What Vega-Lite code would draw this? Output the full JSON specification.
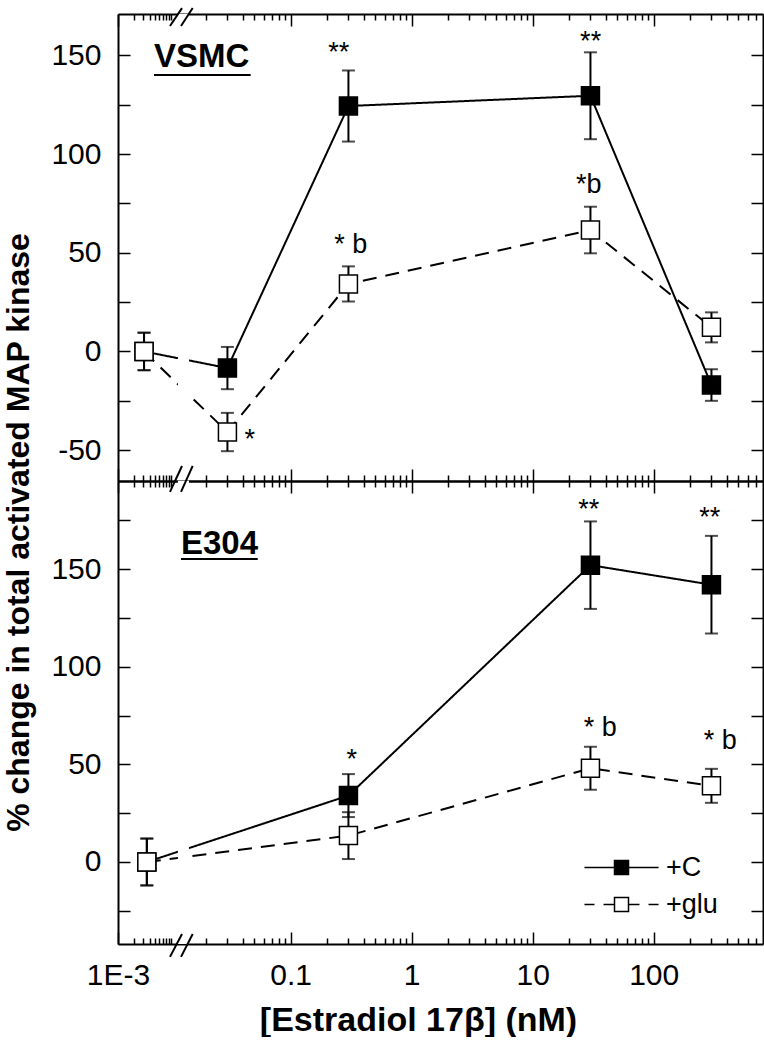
{
  "$schema": "https://vega.github.io/schema/vega-lite/v6.json",
  "padding": {"left": 1, "top": 7, "right": 0, "bottom": 0},
  "autosize": {"type": "pad"},
  "bounds": "flush",
  "spacing": 0,
  "datasets": {
    "vsmc": [
      {"conc": 0.0031, "pct": 0, "err": 9.5, "cond": "+C"},
      {"conc": 0.03, "pct": -8.4, "err": 10.7, "cond": "+C"},
      {"conc": 0.3, "pct": 124.3, "err": 18, "cond": "+C"},
      {"conc": 30, "pct": 129.5, "err": 22, "cond": "+C"},
      {"conc": 300, "pct": -17, "err": 8, "cond": "+C"},
      {"conc": 0.0031, "pct": 0, "err": 9.5, "cond": "+glu"},
      {"conc": 0.03, "pct": -40.8, "err": 9.7, "cond": "+glu"},
      {"conc": 0.3, "pct": 34.2, "err": 8.9, "cond": "+glu"},
      {"conc": 30, "pct": 61.5, "err": 11.8, "cond": "+glu"},
      {"conc": 300, "pct": 12.2, "err": 7.6, "cond": "+glu"}
    ],
    "e304": [
      {"conc": 0.0035, "pct": 0, "err": 12, "cond": "+C"},
      {"conc": 0.3, "pct": 34, "err": 11, "cond": "+C"},
      {"conc": 30, "pct": 152, "err": 22.4, "cond": "+C"},
      {"conc": 300, "pct": 142, "err": 25, "cond": "+C"},
      {"conc": 0.0035, "pct": 0, "err": 12, "cond": "+glu"},
      {"conc": 0.3, "pct": 13.5, "err": 12, "cond": "+glu"},
      {"conc": 30, "pct": 48, "err": 11, "cond": "+glu"},
      {"conc": 300, "pct": 39, "err": 8.7, "cond": "+glu"}
    ]
  },
  "vconcat": [
    {
      "width": 645,
      "height": 467,
      "resolve": {"axis": {"x": "independent", "y": "independent"}},
      "layer": [
        {
          "data": {"name": "vsmc"},
          "mark": {"type": "line", "strokeWidth": 2, "color": "black", "strokeCap": "butt"},
          "encoding": {
            "x": {"field": "conc", "type": "quantitative", "scale": {"type": "log", "domain": [0.001, 0.01, 0.015, 800], "range": [0, 53, 73, 645], "nice": false},
              "axis": {"orient": "bottom", "values": [0.001, 0.1, 1, 10, 100], "tickSize": -12, "labels": false, "title": null}},
            "y": {"field": "pct", "type": "quantitative", "scale": {"domain": [-65.6, 170.9], "nice": false, "zero": false},
              "axis": {"orient": "left", "values": [-50, -25, 0, 25, 50, 75, 100, 125, 150], "tickSize": -12, "labelPadding": 29,
                "labelExpr": "datum.value % 50 === 0 ? toString(datum.value) : ''",
                "title": "% change in total activated MAP kinase", "titleFontSize": 32, "titleX": -90, "titleY": 518, "titleAngle": 270, "titleAlign": "center", "titleBaseline": "alphabetic"}},
            "strokeDash": {"field": "cond", "type": "nominal", "scale": {"domain": ["+glu", "+C"], "range": [[14, 9], [1, 0]]}, "legend": null}
          }
        },
        {
          "data": {"values": [{"a": 0.0115, "b": 0.0144}]},
          "mark": {"type": "rect", "color": "white"},
          "encoding": {
            "x": {"field": "a", "type": "quantitative", "scale": {"type": "log", "domain": [0.001, 0.01, 0.015, 800], "range": [0, 53, 73, 645], "nice": false},
              "axis": {"orient": "bottom", "values": [0.002,0.003,0.004,0.005,0.006,0.007,0.008,0.009,0.01,0.02,0.03,0.04,0.05,0.06,0.07,0.08,0.09,0.2,0.3,0.4,0.5,0.6,0.7,0.8,0.9,2,3,4,5,6,7,8,9,20,30,40,50,60,70,80,90,200,300,400,500,600,700], "tickSize": -6, "labels": false, "domain": false, "title": null}},
            "x2": {"field": "b"}
          }
        },
        {
          "data": {"name": "vsmc"},
          "mark": {"type": "errorbar", "color": "black", "thickness": 2, "ticks": {"size": 13}},
          "encoding": {
            "x": {"field": "conc", "type": "quantitative", "scale": {"type": "log", "domain": [0.001, 0.01, 0.015, 800], "range": [0, 53, 73, 645], "nice": false}, "axis": null},
            "y": {"field": "pct", "type": "quantitative", "scale": {"domain": [-65.6, 170.9], "nice": false, "zero": false}, "axis": null},
            "yError": {"field": "err"}
          }
        },
        {
          "data": {"name": "vsmc"},
          "mark": {"type": "point", "shape": "square", "size": 324, "filled": true, "stroke": "black", "strokeWidth": 1.5, "opacity": 1},
          "encoding": {
            "x": {"field": "conc", "type": "quantitative", "scale": {"type": "log", "domain": [0.001, 0.01, 0.015, 800], "range": [0, 53, 73, 645], "nice": false},
              "axis": {"orient": "top", "values": [0.001, 0.1, 1, 10, 100], "tickSize": -12, "labels": false, "title": null}},
            "y": {"field": "pct", "type": "quantitative", "scale": {"domain": [-65.6, 170.9], "nice": false, "zero": false},
              "axis": {"orient": "right", "values": [-50, -25, 0, 25, 50, 75, 100, 125, 150], "tickSize": -12, "labels": false, "title": null}},
            "fill": {"condition": {"test": "datum.conc < 0.005", "value": "white"}, "field": "cond", "type": "nominal", "scale": {"domain": ["+C", "+glu"], "range": ["black", "white"]}, "legend": null}
          }
        },
        {
          "data": {"values": [
            {"x1": 0.00957, "x2": 0.0125, "y1": 164.8, "y2": 173.9},
            {"x1": 0.01225, "x2": 0.01549, "y1": 164.8, "y2": 173.9}
          ]},
          "mark": {"type": "rule", "strokeWidth": 2, "color": "black"},
          "encoding": {
            "x": {"field": "x1", "type": "quantitative", "scale": {"type": "log", "domain": [0.001, 0.01, 0.015, 800], "range": [0, 53, 73, 645], "nice": false},
              "axis": {"orient": "top", "values": [0.002,0.003,0.004,0.005,0.006,0.007,0.008,0.009,0.01,0.02,0.03,0.04,0.05,0.06,0.07,0.08,0.09,0.2,0.3,0.4,0.5,0.6,0.7,0.8,0.9,2,3,4,5,6,7,8,9,20,30,40,50,60,70,80,90,200,300,400,500,600,700], "tickSize": -6, "labels": false, "domain": false, "title": null}},
            "x2": {"field": "x2"},
            "y": {"field": "y1", "type": "quantitative", "scale": {"domain": [-65.6, 170.9], "nice": false, "zero": false}, "axis": null},
            "y2": {"field": "y2"}
          }
        },
        {
          "data": {"values": [{"x1": 0.00478, "x2": 0.0467, "y": 140}]},
          "mark": {"type": "rule", "strokeWidth": 2, "color": "black"},
          "encoding": {
            "x": {"field": "x1", "type": "quantitative", "scale": {"type": "log", "domain": [0.001, 0.01, 0.015, 800], "range": [0, 53, 73, 645], "nice": false}, "axis": null},
            "x2": {"field": "x2"},
            "y": {"field": "y", "type": "quantitative", "scale": {"domain": [-65.6, 170.9], "nice": false, "zero": false}, "axis": null}
          }
        },
        {
          "data": {"values": [{"conc": 0.00478, "pct": 144.1, "label": "VSMC"}]},
          "mark": {"type": "text", "align": "left", "baseline": "alphabetic", "fontSize": 33, "fontWeight": "bold", "font": "Liberation Sans", "color": "black"},
          "encoding": {
            "x": {"field": "conc", "type": "quantitative", "scale": {"type": "log", "domain": [0.001, 0.01, 0.015, 800], "range": [0, 53, 73, 645], "nice": false}, "axis": null},
            "y": {"field": "pct", "type": "quantitative", "scale": {"domain": [-65.6, 170.9], "nice": false, "zero": false}, "axis": null},
            "text": {"field": "label"}
          }
        },
        {
          "data": {"values": [
            {"conc": 0.25, "pct": 147.1, "label": "**"},
            {"conc": 30.1, "pct": 152.7, "label": "**"},
            {"conc": 0.313, "pct": 50.0, "label": "* b"},
            {"conc": 29.0, "pct": 80.3, "label": "*b"},
            {"conc": 0.0458, "pct": -48.7, "label": "*"}
          ]},
          "mark": {"type": "text", "align": "center", "baseline": "alphabetic", "fontSize": 27, "font": "Liberation Sans", "color": "black"},
          "encoding": {
            "x": {"field": "conc", "type": "quantitative", "scale": {"type": "log", "domain": [0.001, 0.01, 0.015, 800], "range": [0, 53, 73, 645], "nice": false}, "axis": null},
            "y": {"field": "pct", "type": "quantitative", "scale": {"domain": [-65.6, 170.9], "nice": false, "zero": false}, "axis": null},
            "text": {"field": "label"}
          }
        }
      ]
    },
    {
      "width": 645,
      "height": 463,
      "resolve": {"axis": {"x": "independent", "y": "independent"}},
      "layer": [
        {
          "data": {"name": "e304"},
          "mark": {"type": "line", "strokeWidth": 2, "color": "black", "strokeCap": "butt"},
          "encoding": {
            "x": {"field": "conc", "type": "quantitative", "scale": {"type": "log", "domain": [0.001, 0.01, 0.015, 800], "range": [0, 53, 73, 645], "nice": false},
              "axis": {"orient": "bottom", "values": [0.001, 0.1, 1, 10, 100], "tickSize": -12, "labelPadding": 28,
                "labelExpr": "datum.value < 0.005 ? '1E-3' : toString(datum.value)",
                "title": "[Estradiol 17β] (nM)", "titleFontSize": 34, "titleX": 300, "titleY": 86, "titleAlign": "center", "titleBaseline": "alphabetic"}},
            "y": {"field": "pct", "type": "quantitative", "scale": {"domain": [-42, 195.1], "nice": false, "zero": false},
              "axis": {"orient": "left", "values": [-25, 0, 25, 50, 75, 100, 125, 150, 175], "tickSize": -12, "labelPadding": 29,
                "labelExpr": "datum.value % 50 === 0 ? toString(datum.value) : ''", "title": null}},
            "strokeDash": {"field": "cond", "type": "nominal", "scale": {"domain": ["+glu", "+C"], "range": [[14, 9], [1, 0]]}, "legend": null}
          }
        },
        {
          "data": {"values": [{"a": 0.0115, "b": 0.0144}]},
          "mark": {"type": "rect", "color": "white"},
          "encoding": {
            "x": {"field": "a", "type": "quantitative", "scale": {"type": "log", "domain": [0.001, 0.01, 0.015, 800], "range": [0, 53, 73, 645], "nice": false},
              "axis": {"orient": "bottom", "values": [0.002,0.003,0.004,0.005,0.006,0.007,0.008,0.009,0.01,0.02,0.03,0.04,0.05,0.06,0.07,0.08,0.09,0.2,0.3,0.4,0.5,0.6,0.7,0.8,0.9,2,3,4,5,6,7,8,9,20,30,40,50,60,70,80,90,200,300,400,500,600,700], "tickSize": -6, "labels": false, "domain": false, "title": null}},
            "x2": {"field": "b"}
          }
        },
        {
          "data": {"name": "e304"},
          "mark": {"type": "errorbar", "color": "black", "thickness": 2, "ticks": {"size": 13}},
          "encoding": {
            "x": {"field": "conc", "type": "quantitative", "scale": {"type": "log", "domain": [0.001, 0.01, 0.015, 800], "range": [0, 53, 73, 645], "nice": false}, "axis": null},
            "y": {"field": "pct", "type": "quantitative", "scale": {"domain": [-42, 195.1], "nice": false, "zero": false}, "axis": null},
            "yError": {"field": "err"}
          }
        },
        {
          "data": {"name": "e304"},
          "mark": {"type": "point", "shape": "square", "size": 324, "filled": true, "stroke": "black", "strokeWidth": 1.5, "opacity": 1},
          "encoding": {
            "x": {"field": "conc", "type": "quantitative", "scale": {"type": "log", "domain": [0.001, 0.01, 0.015, 800], "range": [0, 53, 73, 645], "nice": false},
              "axis": {"orient": "top", "values": [0.001, 0.1, 1, 10, 100], "tickSize": -12, "labels": false, "title": null}},
            "y": {"field": "pct", "type": "quantitative", "scale": {"domain": [-42, 195.1], "nice": false, "zero": false},
              "axis": {"orient": "right", "values": [-25, 0, 25, 50, 75, 100, 125, 150, 175], "tickSize": -12, "labels": false, "title": null}},
            "fill": {"condition": {"test": "datum.conc < 0.005", "value": "white"}, "field": "cond", "type": "nominal", "scale": {"domain": ["+C", "+glu"], "range": ["black", "white"]},
              "legend": {"orient": "none", "legendX": 490, "legendY": 373, "title": null, "padding": 0, "symbolSize": 196, "symbolStrokeColor": "black", "symbolStrokeWidth": 1.5, "symbolOpacity": 1,
                "labelFont": "Liberation Sans", "labelFontSize": 27, "labelColor": "black", "labelOffset": 31, "rowPadding": 9,
                "encode": {"symbols": {"update": {"shape": {"signal": "datum.value === '+C' ? 'M-5.29,0H5.29M-1,-1H1V1H-1Z' : 'M-5.29,0H-3.86M-2.57,0H-1M1,0H2.57M3.86,0H5.29M-1,-1H1V1H-1Z'"}, "stroke": {"value": "black"}, "strokeWidth": {"value": 1.5}}}}}}
          }
        },
        {
          "data": {"values": [
            {"x1": 0.00957, "x2": 0.0125, "y1": 189.5, "y2": 202.8},
            {"x1": 0.01225, "x2": 0.01549, "y1": 189.5, "y2": 202.8},
            {"x1": 0.00957, "x2": 0.0125, "y1": -48.6, "y2": -36.9},
            {"x1": 0.01225, "x2": 0.01549, "y1": -48.6, "y2": -36.9}
          ]},
          "mark": {"type": "rule", "strokeWidth": 2, "color": "black"},
          "encoding": {
            "x": {"field": "x1", "type": "quantitative", "scale": {"type": "log", "domain": [0.001, 0.01, 0.015, 800], "range": [0, 53, 73, 645], "nice": false},
              "axis": {"orient": "top", "values": [0.002,0.003,0.004,0.005,0.006,0.007,0.008,0.009,0.01,0.02,0.03,0.04,0.05,0.06,0.07,0.08,0.09,0.2,0.3,0.4,0.5,0.6,0.7,0.8,0.9,2,3,4,5,6,7,8,9,20,30,40,50,60,70,80,90,200,300,400,500,600,700], "tickSize": -6, "labels": false, "domain": false, "title": null}},
            "x2": {"field": "x2"},
            "y": {"field": "y1", "type": "quantitative", "scale": {"domain": [-42, 195.1], "nice": false, "zero": false}, "axis": null},
            "y2": {"field": "y2"}
          }
        },
        {
          "data": {"values": [{"x1": 0.01225, "x2": 0.0534, "y": 155.1}]},
          "mark": {"type": "rule", "strokeWidth": 2, "color": "black"},
          "encoding": {
            "x": {"field": "x1", "type": "quantitative", "scale": {"type": "log", "domain": [0.001, 0.01, 0.015, 800], "range": [0, 53, 73, 645], "nice": false}, "axis": null},
            "x2": {"field": "x2"},
            "y": {"field": "y", "type": "quantitative", "scale": {"domain": [-42, 195.1], "nice": false, "zero": false}, "axis": null}
          }
        },
        {
          "data": {"values": [{"conc": 0.01225, "pct": 157.7, "label": "E304"}]},
          "mark": {"type": "text", "align": "left", "baseline": "alphabetic", "fontSize": 33, "fontWeight": "bold", "font": "Liberation Sans", "color": "black"},
          "encoding": {
            "x": {"field": "conc", "type": "quantitative", "scale": {"type": "log", "domain": [0.001, 0.01, 0.015, 800], "range": [0, 53, 73, 645], "nice": false}, "axis": null},
            "y": {"field": "pct", "type": "quantitative", "scale": {"domain": [-42, 195.1], "nice": false, "zero": false}, "axis": null},
            "text": {"field": "label"}
          }
        },
        {
          "data": {"values": [
            {"conc": 0.319, "pct": 47.9, "label": "*"},
            {"conc": 29.0, "pct": 175.9, "label": "**"},
            {"conc": 290, "pct": 172.2, "label": "**"},
            {"conc": 36.1, "pct": 64.7, "label": "* b"},
            {"conc": 354.5, "pct": 57.9, "label": "* b"}
          ]},
          "mark": {"type": "text", "align": "center", "baseline": "alphabetic", "fontSize": 27, "font": "Liberation Sans", "color": "black"},
          "encoding": {
            "x": {"field": "conc", "type": "quantitative", "scale": {"type": "log", "domain": [0.001, 0.01, 0.015, 800], "range": [0, 53, 73, 645], "nice": false}, "axis": null},
            "y": {"field": "pct", "type": "quantitative", "scale": {"domain": [-42, 195.1], "nice": false, "zero": false}, "axis": null},
            "text": {"field": "label"}
          }
        }
      ]
    }
  ],
  "resolve": {"scale": {"fill": "independent", "strokeDash": "independent"}},
  "config": {
    "view": {"stroke": null},
    "font": "Liberation Sans",
    "axis": {
      "domainColor": "black", "domainWidth": 2, "tickColor": "black", "tickWidth": 1.5,
      "labelFont": "Liberation Sans", "labelFontSize": 30, "labelColor": "black",
      "grid": false, "zindex": 1, "labelFlush": false, "labelOverlap": false, "labelBound": false,
      "titleFont": "Liberation Sans", "titleFontWeight": "bold", "titleColor": "black"
    }
  }
}
